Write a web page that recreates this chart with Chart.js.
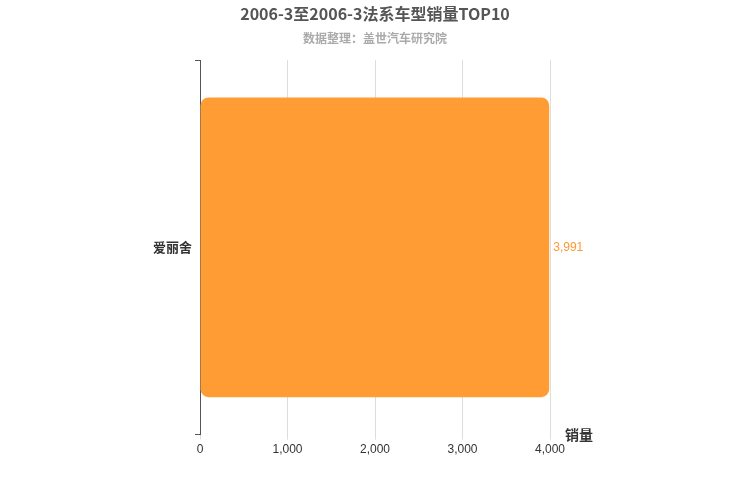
<!DOCTYPE html>
<html><head><meta charset="utf-8">
<script src="https://cdn.jsdelivr.net/npm/chart.js@4"></script>
<style>body{margin:0;background:#fff}#w{width:750px;height:500px}</style>
</head><body><div id="w"><canvas id="c"></canvas></div>
<script>
const categories = ['爱丽舍'];
const sales = [3991];
const xTicks = [0, 1000, 2000, 3000, 4000];
const F = '"Noto Sans CJK SC", sans-serif';
const L = '"Liberation Sans", Arial, sans-serif';
const extras = {
  id: 'extras',
  afterDatasetsDraw(chart) {
    const ctx = chart.ctx, x = chart.scales.x, y = chart.scales.y;
    ctx.save();
    ctx.textAlign = 'center'; ctx.textBaseline = 'middle';
    ctx.font = 'bold 16px ' + F; ctx.fillStyle = '#555';
    ctx.fillText('2006-3至2006-3法系车型销量TOP10', 375, 14);
    ctx.font = 'bold 12px ' + F; ctx.fillStyle = '#aaa';
    ctx.fillText('数据整理：盖世汽车研究院', 375, 38);
    ctx.font = '12px ' + L; ctx.fillStyle = '#ff9933';
    ctx.textAlign = 'left';
    sales.forEach((v, i) => ctx.fillText(v.toLocaleString('en-US'), x.getPixelForValue(v) + 4, y.getPixelForValue(i)));
    ctx.font = 'bold 14px ' + F; ctx.fillStyle = '#333';
    ctx.fillText('销量', chart.chartArea.right + 15, chart.chartArea.bottom);
    ctx.restore();
  }
};
new Chart(document.getElementById('c'), {
  type: 'bar',
  data: { labels: categories, datasets: [{ data: sales, backgroundColor: '#ff9c33', borderRadius: 8, borderSkipped: false, categoryPercentage: 0.8, barPercentage: 1 }] },
  options: {
    indexAxis: 'y', responsive: true, maintainAspectRatio: false, animation: false,
    layout: { padding: { left: 0, right: 200, top: 60, bottom: 40 } },
    plugins: { legend: { display: false }, tooltip: { enabled: false } },
    scales: {
      x: { min: 0, max: 4000, afterBuildTicks(s) { s.ticks = xTicks.map(v => ({ value: v })); },
        ticks: { color: '#333', font: { family: L, size: 12 } , callback: v => v.toLocaleString('en-US') },
        grid: { color: '#ddd', drawTicks: true, tickLength: 5 }, border: { display: false } },
      y: { afterFit(s) { s.width = 200; },
        ticks: { color: '#333', font: { family: F, size: 13, weight: 'bold' } },
        grid: { offset: true, drawOnChartArea: false, drawTicks: true, tickLength: 5, color: '#555' },
        border: { display: true, color: '#555', width: 1 } }
    }
  },
  plugins: [extras]
});
</script></body></html>
